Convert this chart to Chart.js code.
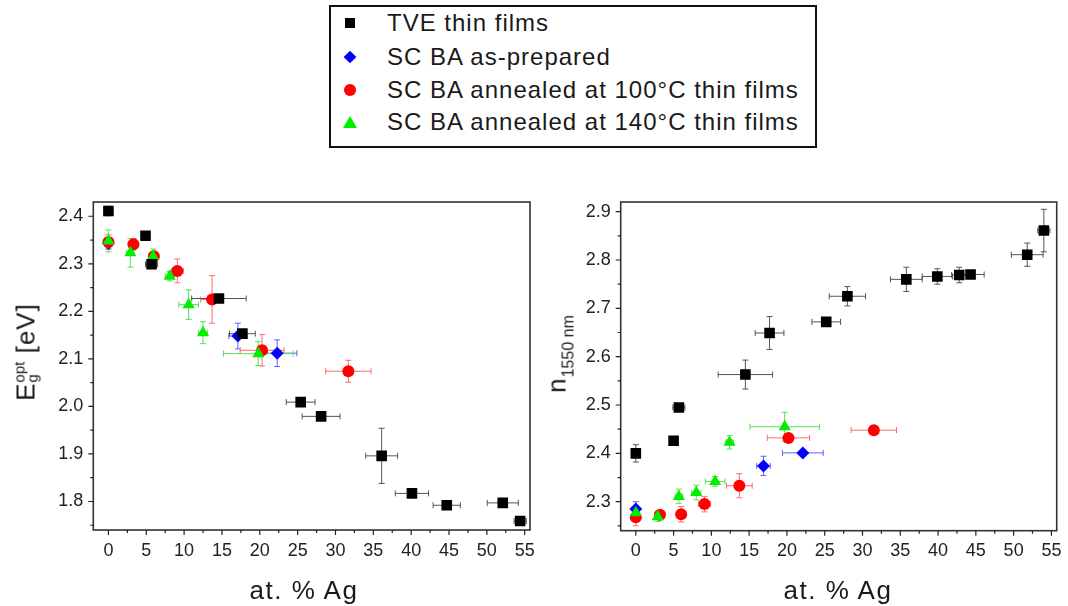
<!DOCTYPE html>
<html><head><meta charset="utf-8">
<script src="https://cdn.jsdelivr.net/npm/chart.js@4.4.0/dist/chart.umd.min.js"></script>
<style>
body{margin:0;width:1068px;height:606px;background:#fff;position:relative;overflow:hidden;font-family:"Liberation Sans",Arial,sans-serif;color:#1a1a1a;}
canvas{position:absolute;}
#legend{position:absolute;left:329px;top:5px;width:484px;height:139px;border:2px solid #111;}
.row{position:absolute;left:56px;height:30px;line-height:30px;font-size:24px;letter-spacing:1px;white-space:nowrap;transform:translateY(-50%);}
.mk{position:absolute;left:19px;transform:translate(-50%,-50%);}
.sq{width:10px;height:10px;background:#000;}
.di{width:9px;height:9px;background:#0000ff;transform:translate(-50%,-50%) rotate(45deg);}
.ci{width:12px;height:12px;border-radius:50%;background:#ff0000;}
.tr{width:0;height:0;border-left:7px solid transparent;border-right:7px solid transparent;border-bottom:12px solid #00ee00;}
.ytitle{position:absolute;white-space:nowrap;font-size:26px;letter-spacing:1px;transform:translate(-50%,-50%) rotate(-90deg);}
.xtitle{position:absolute;white-space:nowrap;font-size:26px;letter-spacing:1.5px;transform:translate(-50%,-50%);}
.ss{display:inline-block;vertical-align:middle;line-height:0.9;font-size:15px;letter-spacing:0;text-align:left;position:relative;top:-2px;}
.sub{font-size:16px;letter-spacing:0;position:relative;top:8px;}
</style>
</head><body>
<div id="legend">
  <div class="mk sq" style="top:16px"></div><div class="row" style="top:16px">TVE thin films</div>
  <div class="mk di" style="top:50px"></div><div class="row" style="top:50px">SC BA as-prepared</div>
  <div class="mk ci" style="top:83px"></div><div class="row" style="top:83px">SC BA annealed at 100°C thin films</div>
  <div class="mk tr" style="top:115px"></div><div class="row" style="top:115px">SC BA annealed at 140°C thin films</div>
</div>
<canvas id="c1" width="540" height="456" style="left:0;top:150px"></canvas>
<canvas id="c2" width="528" height="456" style="left:540px;top:150px"></canvas>
<div class="ytitle" style="left:26px;top:352px">E<span class="ss">opt<br>g</span> [eV]</div>
<div class="ytitle" style="left:557px;top:354px">n<span class="sub">1550 nm</span></div>
<div class="xtitle" style="left:304px;top:590px">at. % Ag</div>
<div class="xtitle" style="left:838px;top:590px">at. % Ag</div>
<script>
// ---------- Left panel: optical band gap ----------
const egTveX = [0, 4.9, 5.7, 14.6, 17.7, 25.4, 28.1, 36.1, 40.1, 44.7, 52.1, 54.4];
const egTveY = [2.411, 2.359, 2.299, 2.227, 2.153, 2.009, 1.979, 1.896, 1.817, 1.792, 1.797, 1.759];
const egTveXErr = [0.4, 0.4, 0.8, 3.6, 1.7, 1.9, 2.5, 2.1, 2.2, 1.8, 2.05, 0.8];
const egTveYErr = [0.01, 0.005, 0.008, 0.006, 0.006, 0.005, 0.005, 0.058, 0.005, 0.005, 0.005, 0.005];

const egAsX = [0, 17.1, 22.3];
const egAsY = [2.343, 2.148, 2.112];
const egAsXErr = [0.3, 1.2, 2.6];
const egAsYErr = [0.012, 0.027, 0.028];

const eg100X = [0, 3.3, 6.0, 9.1, 13.7, 20.3, 31.7];
const eg100Y = [2.346, 2.341, 2.316, 2.285, 2.225, 2.118, 2.074];
const eg100XErr = [0.3, 0.5, 0.6, 0.8, 1.5, 2.9, 3.0];
const eg100YErr = [0.015, 0.012, 0.01, 0.025, 0.05, 0.033, 0.023];

const eg140X = [0, 2.9, 5.9, 8.1, 10.6, 12.5, 19.8];
const eg140Y = [2.348, 2.323, 2.316, 2.274, 2.214, 2.155, 2.111];
const eg140XErr = [0.3, 0.5, 0.6, 0.6, 1.3, 0.6, 4.6];
const eg140YErr = [0.023, 0.03, 0.015, 0.01, 0.031, 0.023, 0.025];

// ---------- Right panel: refractive index at 1550 nm ----------
const nTveX = [0, 5.0, 5.7, 14.5, 17.7, 25.2, 28.0, 35.8, 39.9, 42.8, 44.3, 51.8, 54.0];
const nTveY = [2.400, 2.426, 2.495, 2.563, 2.649, 2.672, 2.725, 2.760, 2.766, 2.769, 2.770, 2.811, 2.861];
const nTveXErr = [0.3, 0.4, 0.8, 3.6, 1.9, 1.9, 2.4, 2.1, 2.0, 1.0, 1.8, 2.1, 0.8];
const nTveYErr = [0.018, 0.005, 0.005, 0.03, 0.034, 0.005, 0.02, 0.025, 0.016, 0.016, 0.005, 0.024, 0.044];

const nAsX = [0, 16.9, 22.1];
const nAsY = [2.285, 2.374, 2.401];
const nAsXErr = [0.3, 0.9, 2.7];
const nAsYErr = [0.015, 0.02, 0.005];

const n100X = [0, 3.2, 6.0, 9.1, 13.7, 20.2, 31.5];
const n100Y = [2.268, 2.273, 2.274, 2.295, 2.333, 2.432, 2.448];
const n100XErr = [0.3, 0.5, 0.6, 0.8, 1.7, 2.8, 3.0];
const n100YErr = [0.018, 0.005, 0.016, 0.016, 0.025, 0.005, 0.005];

const n140X = [0, 2.9, 5.7, 8.0, 10.5, 12.4, 19.7];
const n140Y = [2.277, 2.269, 2.311, 2.319, 2.342, 2.423, 2.455];
const n140XErr = [0.3, 0.4, 0.5, 0.6, 1.3, 0.5, 4.6];
const n140YErr = [0.01, 0.01, 0.015, 0.015, 0.01, 0.014, 0.03];

const seriesNames = ['TVE thin films', 'SC BA as-prepared', 'SC BA annealed at 100°C thin films', 'SC BA annealed at 140°C thin films'];

const FONT = '"Liberation Sans", Arial, sans-serif';

const errPlugin = {
  id: 'errbars',
  beforeDatasetsDraw(chart) {
    const {ctx, scales: {x, y}} = chart;
    const ds = chart.data.datasets.map((d, i) => ({d, i})).sort((a, b) => b.d.order - a.d.order);
    ds.forEach(({d}) => {
      ctx.save();
      ctx.strokeStyle = d.errColor; ctx.lineWidth = 1;
      d.data.forEach((p, j) => {
        const px = x.getPixelForValue(p.x), py = y.getPixelForValue(p.y);
        const ex = d.xErr[j], ey = d.yErr[j];
        const x1 = x.getPixelForValue(p.x - ex), x2 = x.getPixelForValue(p.x + ex);
        const y1 = y.getPixelForValue(p.y - ey), y2 = y.getPixelForValue(p.y + ey);
        ctx.beginPath();
        ctx.moveTo(x1, py); ctx.lineTo(x2, py);
        ctx.moveTo(x1, py - 3); ctx.lineTo(x1, py + 3);
        ctx.moveTo(x2, py - 3); ctx.lineTo(x2, py + 3);
        ctx.moveTo(px, y1); ctx.lineTo(px, y2);
        ctx.moveTo(px - 3, y1); ctx.lineTo(px + 3, y1);
        ctx.moveTo(px - 3, y2); ctx.lineTo(px + 3, y2);
        ctx.stroke();
      });
      ctx.restore();
    });
  }
};

const framePlugin = {
  id: 'frame',
  afterDraw(chart) {
    const {ctx, chartArea: a, scales: {x, y}} = chart;
    ctx.save();
    ctx.strokeStyle = '#333'; ctx.lineWidth = 1.6;
    ctx.strokeRect(a.left, a.top, a.right - a.left, a.bottom - a.top);
    ctx.lineWidth = 1.2; ctx.strokeStyle = '#222';
    ctx.beginPath();
    x.ticks.forEach(t => {
      const px = x.getPixelForValue(t.value);
      const L = t.label !== '' ? 5 : 3;
      ctx.moveTo(px, a.bottom); ctx.lineTo(px, a.bottom + L);
    });
    y.ticks.forEach(t => {
      const py = y.getPixelForValue(t.value);
      const L = t.label !== '' ? 5 : 3;
      ctx.moveTo(a.left, py); ctx.lineTo(a.left - L, py);
    });
    ctx.stroke();
    ctx.restore();
  }
};

function pts(xs, ys) { return xs.map((v, i) => ({x: v, y: ys[i]})); }

function mkDatasets(s) {
  return [
    {label: seriesNames[0], data: pts(s[0][0], s[0][1]), xErr: s[0][2], yErr: s[0][3], order: 0,
     pointStyle: 'rect', pointRadius: 7.5, backgroundColor: '#000', borderColor: '#000', borderWidth: 0, errColor: '#555'},
    {label: seriesNames[1], data: pts(s[1][0], s[1][1]), xErr: s[1][2], yErr: s[1][3], order: 3,
     pointStyle: 'rectRot', pointRadius: 6.5, backgroundColor: '#0000ff', borderColor: '#0000ff', borderWidth: 0, errColor: '#6060ff'},
    {label: seriesNames[2], data: pts(s[2][0], s[2][1]), xErr: s[2][2], yErr: s[2][3], order: 2,
     pointStyle: 'circle', pointRadius: 6, backgroundColor: '#ff0000', borderColor: '#ff0000', borderWidth: 0, errColor: '#ff6a6a'},
    {label: seriesNames[3], data: pts(s[3][0], s[3][1]), xErr: s[3][2], yErr: s[3][3], order: 1,
     pointStyle: 'triangle', pointRadius: 7, backgroundColor: '#00ee00', borderColor: '#00ee00', borderWidth: 0, errColor: '#55e055'},
  ];
}

function mkChart(id, sets, yMin, yMax, yWidth, xHeight, padRight) {
  return new Chart(document.getElementById(id), {
    type: 'scatter',
    data: {datasets: mkDatasets(sets)},
    options: {
      responsive: false, animation: false, devicePixelRatio: 1,
      layout: {padding: {top: 52, right: padRight, left: 0, bottom: 0}},
      plugins: {legend: {display: false}, tooltip: {enabled: false}},
      scales: {
        x: {
          type: 'linear', min: -2, max: 55.7,
          grid: {display: false, drawTicks: true, tickLength: 5},
          border: {display: false},
          ticks: {stepSize: 2.5, includeBounds: false, autoSkip: false, maxRotation: 0, padding: 5,
                  color: '#222', font: {family: FONT, size: 18},
                  callback: v => (Math.abs(v / 5 - Math.round(v / 5)) < 1e-6 ? String(Math.round(v)) : '')},
          afterFit: s => { s.height = xHeight; }
        },
        y: {
          type: 'linear', min: yMin, max: yMax,
          grid: {display: false, drawTicks: true, tickLength: 5},
          border: {display: false},
          ticks: {stepSize: 0.05, includeBounds: false, autoSkip: false, padding: 5,
                  color: '#222', font: {family: FONT, size: 18},
                  callback: v => (Math.abs(v * 10 - Math.round(v * 10)) < 1e-6 ? v.toFixed(1) : '')},
          afterFit: s => { s.width = yWidth; }
        }
      }
    },
    plugins: [errPlugin, framePlugin]
  });
}

mkChart('c1', [
  [egTveX, egTveY, egTveXErr, egTveYErr],
  [egAsX, egAsY, egAsXErr, egAsYErr],
  [eg100X, eg100Y, eg100XErr, eg100YErr],
  [eg140X, eg140Y, eg140XErr, eg140YErr]
], 1.74, 2.43, 93.3, 76, 10);

mkChart('c2', [
  [nTveX, nTveY, nTveXErr, nTveYErr],
  [nAsX, nAsY, nAsXErr, nAsYErr],
  [n100X, n100Y, n100XErr, n100YErr],
  [n140X, n140Y, n140XErr, n140YErr]
], 2.24, 2.92, 80.7, 75.3, 11.3);
</script>
</body></html>
